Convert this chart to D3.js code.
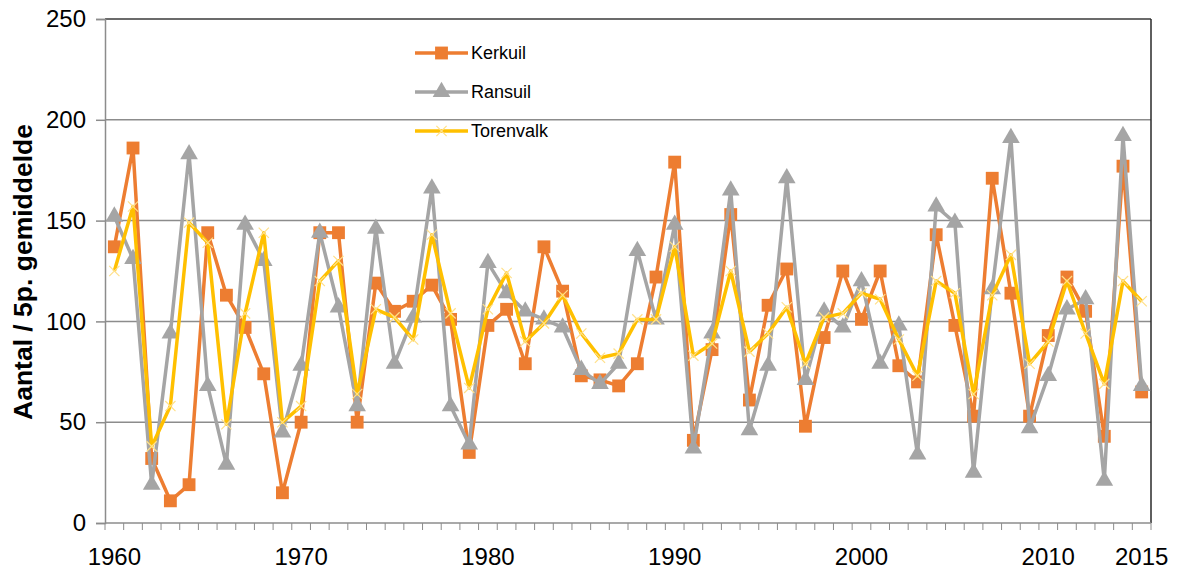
<!DOCTYPE html>
<html>
<head>
<meta charset="utf-8">
<script src="https://cdn.jsdelivr.net/npm/d3@7/dist/d3.min.js"></script>
<style>
html,body{margin:0;padding:0;background:#fff;}
svg{display:block;font-family:"Liberation Sans",Arial,sans-serif;}
</style>
</head>
<body>
<svg id="chart" width="1179" height="570"></svg>
<script>
const years = d3.range(1960, 2016);
const kerkuil = [137,186,32,11,19,144,113,97,74,15,50,144,144,50,119,105,110,118,101,35,98,106,79,137,115,73,71,68,79,122,179,41,86,153,61,108,126,48,92,125,101,125,78,70,143,98,53,171,114,53,93,122,105,43,177,65];
const ransuil = [152,131,19,94,183,68,29,148,130,45,78,144,107,58,146,79,102,166,58,39,129,114,105,101,97,76,69,79,135,101,148,37,94,165,46,78,171,71,105,97,120,79,98,34,157,149,25,116,191,47,73,106,111,21,192,68];
const torenvalk = [125,157,38,58,149,139,49,104,144,50,58,120,130,64,106,102,91,143,104,67,106,124,90,99,113,94,82,84,101,101,137,83,89,125,85,94,107,79,102,104,114,111,91,73,120,114,64,113,133,79,90,120,94,69,120,110];
const yTicks = [0,50,100,150,200,250];
const xLabelYears = [1960,1970,1980,1990,2000,2010,2015];
const seriesNames = ["Kerkuil","Ransuil","Torenvalk"];
const seriesColors = ["#ED7D31","#A5A5A5","#FFC000"];

const svg = d3.select("#chart");
const L = 105, R = 1151, T = 19, B = 523;

const xBand = d3.scaleBand().domain(years).range([L, R]).paddingInner(0).paddingOuter(0);
const xc = d => xBand(d) + xBand.bandwidth()/2;
const y = d3.scaleLinear().domain([0, 250]).range([B, T]);

// gridlines
svg.append("g").selectAll("line").data(yTicks.filter(v => v > 0)).join("line")
  .attr("x1", L).attr("x2", R)
  .attr("y1", d => y(d)).attr("y2", d => y(d))
  .attr("stroke", d => d === 250 ? "#3a3a3a" : "#8c8c8c")
  .attr("stroke-width", 1.5);

// right border
svg.append("line").attr("x1", R).attr("x2", R).attr("y1", T).attr("y2", B)
  .attr("stroke", "#2a2a2a").attr("stroke-width", 1.5);

// y axis
const yAxis = d3.axisLeft(y).tickValues(yTicks).tickSize(9).tickPadding(10);
const gy = svg.append("g").attr("transform", `translate(${L},0)`).call(yAxis);
gy.select(".domain").attr("stroke", "#8c8c8c").attr("stroke-width", 1.5);
gy.selectAll(".tick line").attr("stroke", "#8c8c8c").attr("stroke-width", 1.5);
gy.selectAll(".tick text").attr("font-size", 24).attr("fill", "#000")
  .attr("font-family", "Liberation Sans, Arial, sans-serif");

// x axis line and ticks at category boundaries
svg.append("line").attr("x1", L).attr("x2", R).attr("y1", B).attr("y2", B)
  .attr("stroke", "#8c8c8c").attr("stroke-width", 1.5);
const boundaries = years.map(d => xBand(d)).concat([R]);
svg.append("g").selectAll("line").data(boundaries).join("line")
  .attr("x1", d => d).attr("x2", d => d).attr("y1", B).attr("y2", B + 7)
  .attr("stroke", "#8c8c8c").attr("stroke-width", 1);
svg.append("g").selectAll("text").data(xLabelYears).join("text")
  .attr("x", d => xc(d)).attr("y", 565)
  .attr("text-anchor", "middle").attr("font-size", 24).attr("fill", "#000")
  .text(d => d);

// y title
svg.append("text")
  .attr("transform", "translate(32,272) rotate(-90)")
  .attr("text-anchor", "middle").attr("font-size", 26.5).attr("font-weight", "bold")
  .attr("fill", "#000")
  .text("Aantal / 5p. gemiddelde");

const data = [kerkuil, ransuil, torenvalk];
const line = d3.line().x((d, i) => xc(years[i])).y(d => y(d));

const sqSym = d3.symbol().type(d3.symbolSquare).size(165);
const triSym = d3.symbol().type(d3.symbolTriangle).size(135);
const xSym = d3.symbol().type(d3.symbolX).size(70);

function drawMarkers(g, idx, pts) {
  const sel = g.selectAll("path.m").data(pts).join("path").attr("class","m")
    .attr("transform", d => `translate(${d[0]},${d[1]})`);
  if (idx === 0) sel.attr("d", sqSym()).attr("fill", seriesColors[0]);
  else if (idx === 1) sel.attr("d", triSym()).attr("fill", seriesColors[1]);
  else sel.attr("d", xSym()).attr("fill", "none").attr("stroke", "#FFE08A").attr("stroke-width", 1.2);
}

data.forEach((vals, idx) => {
  const g = svg.append("g");
  g.append("path").datum(vals).attr("d", line)
    .attr("fill", "none").attr("stroke", seriesColors[idx])
    .attr("stroke-width", 3.5).attr("stroke-linejoin", "round");
  const pts = vals.map((v, i) => [xc(years[i]), y(v)]);
  drawMarkers(g, idx, pts);
});

// legend
const legY = [53, 92, 131];
const lg = svg.append("g");
seriesNames.forEach((name, i) => {
  const g = lg.append("g");
  g.append("line").attr("x1", 415).attr("x2", 468).attr("y1", legY[i]).attr("y2", legY[i])
    .attr("stroke", seriesColors[i]).attr("stroke-width", 3.5);
  drawMarkers(g, i, [[441.5, legY[i]]]);
  g.append("text").attr("x", 471).attr("y", legY[i]).attr("dy", "0.35em")
    .attr("font-size", 18).attr("fill", "#000").text(name);
});
</script>
</body>
</html>
